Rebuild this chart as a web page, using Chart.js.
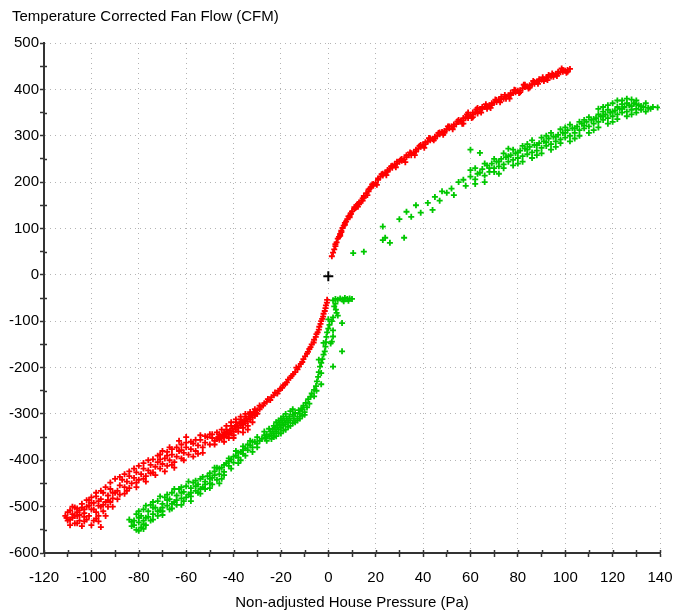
<!DOCTYPE html>
<html>
<head>
<meta charset="utf-8">
<script src="https://cdn.jsdelivr.net/npm/chart.js@4.4.0/dist/chart.umd.min.js"></script>
<style>
  body { margin: 0; background: #fff; }
  canvas { display: block; }
</style>
</head>
<body>
<canvas id="fanChart" width="676" height="613"></canvas>
<script>
// [pressure (Pa), flow (CFM)]
const redUpper = [
  [1.5,40],[2,48],[2.5,55],[3,62],[3.5,70],[4,78],[4.5,82],[5,88],[5.5,95],[6,101],[7,108],[7.5,115],[8,120],[9,127],[9.5,133],[10,137],
  [11,142],[12,150],[12.5,147],[13,156],[14,160],[14.5,165],[15,170],[16,176],[17,180],[17.5,186],[18,189],[19,196],[20,198],[21,205],
  [22,212],[23,214],[24,220],[25,222],[26,229],[27,231],[28,238],[29,240],[30,244],[31,250],[32,249],[33,254],[34,258],[35,262],[36,263],
  [37,270],[38,272],[39,276],[40,281],[41,282],[42,288],[43,290],[44,293],[45,298],[46,300],[47,303],[48,308],[49,310],[50,314],[51,316],
  [52,320],[53,324],[54,325],[55,330],[56,332],[57,333],[58,340],[59,342],[60,344],[61,346],[62,350],[63,352],[64,357],[65,358],[66,362],
  [67,363],[68,366],[69,370],[70,372],[71,373],[72,378],[73,379],[74,380],[75,384],[76,387],[77,388],[78,392],[79,394],[80,397],[81,398],
  [82,402],[83,405],[84,406],[85,409],[86,411],[87,412],[88,416],[89,418],[90,421],[91,422],[92,425],[93,427],[94,428],[95,431],[96,433],
  [97,434],[98,437],[99,438],[100,440],[101,442],[102,444],[100.5,436],[98.5,445],[96.5,429],[94.5,434],[92.5,420],[90.5,426],[88.5,412],
  [86.5,418],[84.5,402],[82.5,410],[80.5,392],[78.5,399],[76.5,380],[74.5,388],[72.5,372],[70.5,378],[68.5,360],[66.5,368],[64.5,350],
  [62.5,357],[60.5,338],[58.5,346],[56.5,326],[54.5,331],[52.5,314],[50.5,320],[48.5,302],[46.5,306],[44.5,290],[42.5,295],[40.5,274],
  [38.5,278],[36.5,258],[34.5,264],[32.5,243],[30.5,248],[28.5,232],[26.5,234],[24.5,215],[22.5,217],[20.5,194],[18.5,195],[16.5,172],
  [14.5,160],[12.5,153],[11.5,144],[9.5,131],[8.5,126],[6.5,106],[5.5,92],
  [3,66],[5,84],[7,112],[9,124],[11,146],[13,152],[15,166],[17,184],[19,192],[21,208],[23,218],[25,226],[27,235],[29,244],[31,246],
  [33,258],[35,258],[37,266],[39,280],[41,286],[43,294],[45,294],[47,307],[49,306],[51,320],[53,320],[55,334],[57,338],[59,338],[61,350],
  [63,348],[65,362],[67,358],[69,366],[71,377],[73,384],[75,380],[77,392],[79,398],[81,394],[83,410],[85,404],[87,416],[89,422],[91,418],
  [93,431],[95,427],[97,438],[99,442],[101,438],[57,326],[59,350],[63,360],[61,340]
];

const redLower = [
  [-0.5,-54],[-0.6,-60],[-1,-66],[-1.2,-72],[-1.5,-78],[-2,-84],[-2.2,-90],[-2.6,-95],[-3,-100],[-3.3,-106],[-3.8,-112],[-4,-118],
  [-4.5,-124],[-5,-128],[-5.3,-134],[-6,-140],[-6.2,-146],[-7,-150],[-7.5,-156],[-8,-160],[-8.6,-166],[-9,-170],[-9.8,-176],[-10.5,-182],
  [-11,-188],[-11.6,-192],[-12.4,-198],[-13,-204],[-13.5,-200],[-14,-210],[-14.8,-214],[-15.5,-218],[-16,-222],[-17,-226],[-17.5,-232],
  [-18.2,-236],[-19,-238],[-19.5,-244],[-20.3,-246],[-21,-250],[-21.5,-256],[-22.5,-254],[-23,-260],[-24,-264],[-24.5,-270],[-25.5,-268],
  [-26,-274],[-27,-277],[-27.5,-282],[-28.5,-285],[-29,-290],[-30,-292],
  [-30.5,-298],[-31,-304],[-31.5,-296],[-32,-308],[-32.5,-302],[-33,-312],[-33.5,-306],[-34,-316],[-34.5,-310],[-35,-320],[-35.5,-314],
  [-36,-322],[-36.5,-318],[-37,-326],[-37.5,-320],[-38,-330],[-38.5,-324],[-39,-334],[-39.5,-328],[-40,-338],[-40.5,-332],[-41,-342],
  [-41.5,-336],[-42,-344],[-42.5,-340],[-43,-348],[-43.5,-342],[-44,-350],[-44.5,-346],[-45,-352],[-45.5,-348],[-46,-356],[-46.5,-350],
  [-47,-354],[-48,-358],[-36,-330],[-38,-338],[-40,-346],[-42,-352],[-34,-326],[-44,-340],[-46,-344],[-33,-300],[-37,-312],[-41,-326],
  [-39,-318],[-35,-306],[-43,-334],[-29,-282],[-30,-300],
  [-31,-290],[-33,-296],[-35,-300],[-37,-306],[-39,-312],[-41,-318],[-43,-326],[-45,-334],[-47,-340],[-49,-344],[-36,-340],[-40,-352],
  [-44,-360],[-48,-366],[-32,-318],[-34,-334],
  [-49,-352],[-50,-366],[-51,-350],[-52,-362],[-53,-372],[-54,-356],[-55,-368],[-56,-380],[-57,-364],[-58,-376],[-59,-388],[-60,-372],
  [-61,-384],[-62,-396],[-63,-380],[-64,-392],[-65,-404],[-66,-388],[-67,-400],[-68,-412],[-69,-396],[-70,-408],[-71,-418],[-72,-404],
  [-73,-414],[-74,-426],[-75,-410],[-76,-422],[-77,-434],[-78,-418],[-79,-430],[-80,-442],[-81,-426],[-82,-438],[-83,-450],[-84,-434],
  [-85,-446],[-86,-458],[-87,-442],[-88,-454],[-89,-466],[-55,-386],[-62,-378],[-68,-390],[-75,-428],[-81,-448],[-60,-362],[-66,-410],
  [-71,-398],[-78,-440],[-84,-460],
  [-50,-344],[-52,-348],[-54,-346],[-56,-356],[-58,-360],[-60,-350],[-62,-366],[-64,-372],[-66,-376],[-68,-382],[-70,-380],[-72,-390],
  [-74,-398],[-76,-400],[-78,-406],[-80,-412],[-82,-418],[-84,-424],[-86,-430],[-88,-436],[-90,-440],[-53,-384],[-57,-392],[-61,-400],
  [-65,-416],[-69,-424],[-73,-432],[-77,-446],[-81,-458],[-85,-466],[-63,-358],[-67,-372],[-71,-388],
  [-90,-470],[-91,-482],[-92,-462],[-93,-476],[-94,-490],[-95,-470],[-96,-484],[-97,-498],[-98,-478],[-99,-492],[-100,-506],[-101,-486],
  [-102,-500],[-103,-514],[-104,-494],[-105,-508],[-106,-520],[-107,-502],[-108,-516],[-109,-528],[-110,-512],[-110.5,-524],[-111,-520],
  [-95,-510],[-97,-520],[-99,-530],[-101,-520],[-103,-532],[-105,-530],[-107,-536],[-93,-500],[-100,-540],[-96,-544],[-102,-528],
  [-104,-542],[-106,-536],[-108,-524],[-92,-490],[-98,-512],[-94,-520],[-91,-500],[-89,-484],[-88,-474],[-86,-472],[-109,-508],
  [-92,-448],[-94,-458],[-96,-466],[-98,-470],[-100,-480],[-102,-486],[-104,-502],[-106,-504],[-108,-500],[-110,-530],[-109,-540],
  [-107,-520],[-105,-518],[-103,-506],[-101,-498],[-99,-506],[-97,-488],[-95,-496],[-93,-486],[-91,-470],[-97,-532],[-103,-522],
  [-106,-512],[-100,-492],[-98,-526],[-96,-500]
];

const greenUpper = [
  [10.5,47],[15,50],[23,104],[26,69],[23,75],[24,80],[32,80],[30,120],[33,136],[35,125],[39,134],[37,150],[42,155],[44,140],[45,168],
  [47,160],[48,180],[50,177],[52,186],[53,172],[55,200],[57,205],[58,192],[60,226],[60,212],[62,206],[64,263],[60,270],[63,218],[65,228],
  [66,214],[67,236],[68,222],[69,240],[70,230],[71,244],[72,234],[73,250],[74,238],[75,254],[76,244],[77,258],[78,248],[79,262],[80,252],
  [81,268],[82,256],[83,272],[84,260],[85,276],[86,264],[87,280],[88,268],[89,284],[90,274],[91,288],[92,278],[93,294],[94,282],[95,298],
  [96,288],[97,302],[98,292],[99,306],[100,296],[101,312],[102,300],[103,316],[104,306],[105,320],[106,312],[107,326],[108,316],[109,330],
  [110,320],[111,334],[112,326],[113,338],[114,330],[115,342],[116,334],[117,346],[118,338],[119,350],[120,342],[121,354],[122,346],
  [123,358],[124,350],[125,362],[126,352],[127,366],[128,356],[129,370],[130,358],[131,366],[132,356],[133,362],[134,352],[135,360],
  [137,362],[139,361],[76,272],[84,282],[92,300],[100,318],[108,334],[116,352],[124,368],[72,218],[80,240],[88,258],[96,276],[104,294],
  [112,312],[120,330],[128,346],[122,376],[126,380],[118,366],[114,358],[130,376],
  [62,230],[64,220],[66,240],[68,230],[70,250],[72,244],[74,262],[76,256],[78,270],[80,264],[82,278],[84,270],[86,290],[88,280],[90,296],
  [92,286],[94,306],[96,298],[98,314],[100,306],[102,324],[104,316],[106,330],[108,322],[110,340],[112,336],[114,346],[116,342],[118,356],
  [120,352],[122,362],[124,358],[126,370],[128,364],[130,368],[132,364],[134,370],[136,358],[70,222],[78,236],[86,252],[94,270],[102,288],
  [110,306],[118,326],[126,342],[74,230],[90,262],[106,300],[122,336],[66,200],[62,196],[82,244],[98,284],[114,318],[130,350],[116,362],
  [120,370],[124,376],[128,378]
];

const greenLower = [
  [2,-55],[3,-52],[4,-54],[5,-51],[6,-53],[7,-50],[8,-52],[9,-51],[10,-52],[8.5,-56],[6.5,-57],[3,-62],[2.5,-68],[3.2,-75],[3.5,-82],
  [4,-88],[2,-92],[1.5,-100],[0.5,-108],[0,-116],[-0.5,-124],[-0.8,-134],[-1,-145],[-1.2,-155],[-1.5,-165],[-2,-172],[-2.5,-182],
  [-3,-190],[-3.5,-198],[-4,-210],[-4.3,-220],[-4.8,-230],[-5.2,-240],[-6,-248],[-7,-256],[-7.5,-263],[-8.5,-268],[-9.5,-276],
  [-10.5,-282],[-11.5,-290],[2,-120],[1,-148],[5.8,-104],[0,-96],[-3,-212],[2,-133],[1.5,-144],[5.8,-165],[2,-198],[-2,-147],[-4,-183],
  [-9,-286],[-10,-296],[-11,-290],[-12,-300],[-12.5,-292],[-13,-306],[-14,-298],[-14.5,-310],[-15,-302],[-16,-314],[-16.5,-306],
  [-17,-318],[-17.5,-310],[-18,-322],[-18.5,-314],[-19,-326],[-19.5,-318],[-20,-330],[-20.5,-322],[-21,-334],[-21.5,-326],[-22,-338],
  [-22.5,-330],[-23,-342],[-23.5,-334],[-24,-346],[-24.5,-338],[-25,-348],[-26,-344],[-26.5,-352],[-27,-346],[-28,-354],[-15,-320],
  [-17,-328],[-19,-336],[-21,-342],[-23,-350],[-13,-314],[-11,-304],[-18,-300],[-16,-294],[-20,-310],[-22,-318],[-8,-278],[-6,-262],
  [-5,-250],[-3,-236],
  [-14,-318],[-16,-326],[-18,-334],[-20,-342],[-22,-348],[-24,-354],[-26,-358],[-12,-310],[-10,-302],[-15,-290],[-19,-306],[-23,-326],
  [-25,-332],[-27,-338],[-21,-314],
  [-29,-358],[-30,-364],[-31,-360],[-32,-372],[-33,-368],[-34,-378],[-35,-374],[-36,-386],[-37,-382],[-38,-394],[-39,-390],[-40,-405],
  [-41,-398],[-42,-412],[-43,-406],[-44,-425],[-45,-416],[-30,-350],[-33,-358],[-36,-370],[-39,-380],[-42,-396],[-32,-382],[-38,-406],
  [-44,-432],
  [-46,-430],[-47,-442],[-48,-424],[-49,-438],[-50,-450],[-51,-434],[-52,-446],[-53,-458],[-54,-440],[-55,-452],[-56,-466],[-57,-448],
  [-58,-460],[-59,-474],[-60,-456],[-61,-468],[-62,-482],[-63,-462],[-64,-476],[-65,-490],[-66,-470],[-67,-484],[-68,-498],[-69,-480],
  [-70,-494],[-71,-508],[-72,-488],[-73,-502],[-74,-516],[-75,-496],[-76,-510],[-77,-524],[-78,-506],[-79,-520],[-80,-534],[-81,-516],
  [-82,-530],[-83,-542],[-84,-528],[-79,-545],[-77,-540],[-75,-530],[-81,-550],[-72,-520],[-70,-510],[-67,-506],[-64,-496],[-61,-488],
  [-58,-478],[-55,-470],[-52,-462],[-49,-452],[-62,-458],[-68,-474],[-74,-490],[-80,-510],[-56,-444],[-50,-428],[-45,-440],[-47,-416],
  [-80,-552],[-78,-548],
  [-30,-372],[-32,-360],[-34,-366],[-36,-378],[-38,-384],[-40,-392],[-42,-402],[-44,-410],[-46,-418],[-48,-432],[-50,-440],[-52,-452],
  [-54,-462],[-56,-456],[-58,-470],[-60,-480],[-62,-470],[-64,-486],[-66,-494],[-68,-486],[-70,-502],[-72,-510],[-74,-502],[-76,-522],
  [-78,-530],[-80,-524],[-82,-540],[-83,-533],[-46,-450],[-50,-460],[-54,-472],[-58,-488],[-62,-496],[-66,-504],[-70,-518],[-74,-528],
  [-78,-538],[-41,-418],[-37,-400],[-35,-390],[-48,-416],[-53,-436],[-59,-446],[-65,-462],[-71,-478],[-77,-498]
];

const origin = [[0,-3]];

const yTitle = 'Temperature Corrected Fan Flow (CFM)';
const xTitle = 'Non-adjusted House Pressure (Pa)';
const xRange = [-120, 140];
const yRange = [-600, 500];

const FONT = 'Liberation Sans';

function toXY(list) {
  return list.map(p => ({ x: p[0], y: p[1] }));
}

// caption at top-left, plus the inner half of the axis tick marks
const extras = {
  id: 'extras',
  afterDraw(chart) {
    const c = chart.ctx;
    const a = chart.chartArea;
    c.save();
    c.font = '15px "' + FONT + '"';
    c.fillStyle = '#000';
    c.textBaseline = 'middle';
    c.fillText(yTitle, 12, 17);
    c.strokeStyle = '#333';
    c.lineWidth = 1.5;
    c.beginPath();
    chart.scales.x.ticks.forEach(t => {
      const px = Math.round(chart.scales.x.getPixelForValue(t.value)) + 0.5;
      c.moveTo(px, a.bottom);
      c.lineTo(px, a.bottom - 3);
    });
    chart.scales.y.ticks.forEach(t => {
      if (t.value % 100 === 0) return;
      const py = Math.round(chart.scales.y.getPixelForValue(t.value)) + 0.5;
      c.moveTo(a.left, py);
      c.lineTo(a.left + 3, py);
    });
    c.stroke();
    c.restore();
  }
};

const ctx = document.getElementById('fanChart').getContext('2d');
const fanChart = new Chart(ctx, {
  type: 'scatter',
  data: {
    datasets: [
      {
        data: toXY(redUpper.concat(redLower)),
        borderColor: '#ff0000',
        backgroundColor: '#ff0000',
      },
      {
        data: toXY(greenUpper.concat(greenLower)),
        borderColor: '#00c800',
        backgroundColor: '#00c800',
      },
      {
        data: toXY(origin),
        borderColor: '#000',
        backgroundColor: '#000',
        pointRadius: 5,
        pointBorderWidth: 2,
      }
    ]
  },
  options: {
    responsive: false,
    animation: false,
    layout: { padding: { top: 43, right: 16, bottom: 0, left: 0 } },
    elements: {
      point: { pointStyle: 'cross', radius: 3, borderWidth: 1.8 }
    },
    plugins: {
      legend: { display: false },
      tooltip: { enabled: false },
    },
    scales: {
      x: {
        type: 'linear',
        min: xRange[0],
        max: xRange[1],
        afterFit: s => {
          s.height = 60;
          s.paddingLeft = 0;
          s.paddingRight = 0;
        },
        ticks: {
          stepSize: 10,
          autoSkip: false,
          maxRotation: 0,
          padding: 12,
          color: '#000',
          font: { family: FONT, size: 15 },
          callback: v => (v % 20 === 0 ? v : ''),
        },
        grid: {
          color: c => (c.tick && c.tick.value % 20 === 0 ? '#b4b4b4' : 'rgba(0,0,0,0)'),
          tickColor: '#333',
          tickLength: 4,
          tickWidth: 1.5,
        },
        border: { color: '#333', width: 2, dash: [1, 4] },
        title: {
          display: true,
          text: xTitle,
          color: '#000',
          font: { family: FONT, size: 15 },
          padding: { top: 0, bottom: 1 },
        },
      },
      y: {
        type: 'linear',
        min: yRange[0],
        max: yRange[1],
        afterFit: s => { s.width = 44; },
        ticks: {
          stepSize: 50,
          autoSkip: false,
          padding: 1,
          color: '#000',
          font: { family: FONT, size: 15 },
          callback: v => (v % 100 === 0 ? v : ''),
        },
        grid: {
          color: c => (c.tick && c.tick.value % 100 === 0 ? '#b4b4b4' : 'rgba(0,0,0,0)'),
          tickColor: '#333',
          tickLength: 4,
          tickWidth: 1.5,
        },
        border: { color: '#333', width: 2, dash: [1, 4] },
      }
    }
  },
  plugins: [extras]
});
</script>
</body>
</html>
